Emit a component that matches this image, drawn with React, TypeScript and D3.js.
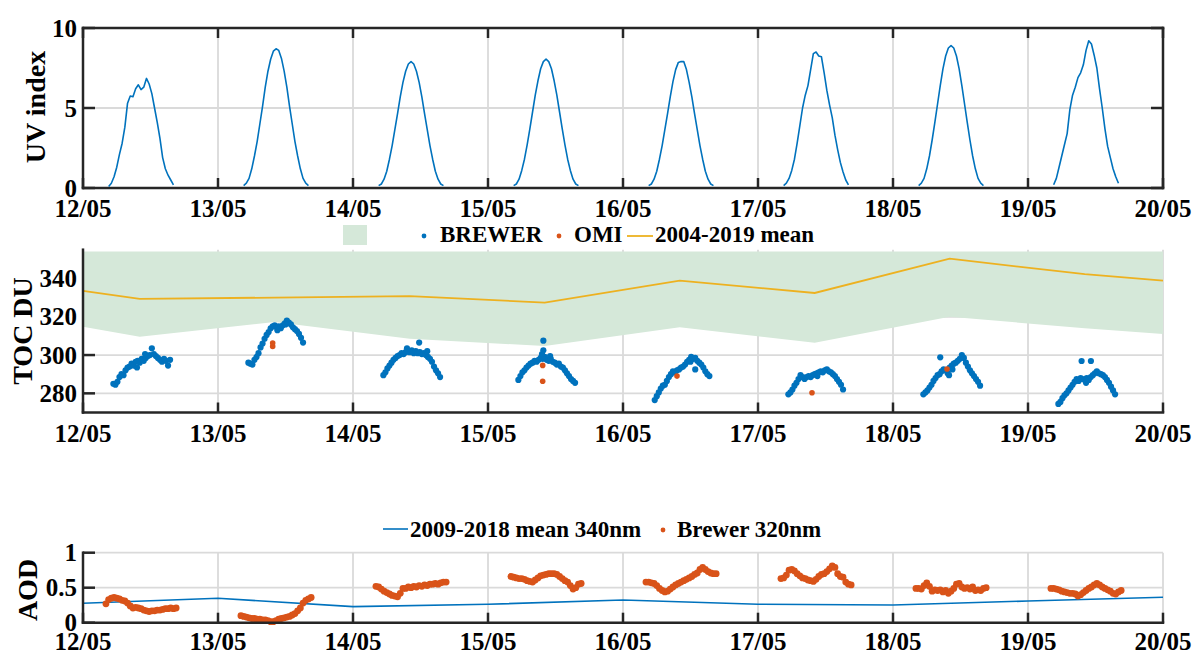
import React from 'react';
import * as d3 from 'd3';

// ---- shared x axis: days of May ----
const DAY_TICKS = [12, 13, 14, 15, 16, 17, 18, 19, 20];
const DAY_LABELS = ['12/05', '13/05', '14/05', '15/05', '16/05', '17/05', '18/05', '19/05', '20/05'];

// ---- UV index, sampled every 0.02 day during daylight ----
const UV_STEP = 0.02;
const UV_STARTS = [12.19, 13.19, 14.19, 15.19, 16.19, 17.19, 18.19, 19.19];
const uv12 = [0.1, 0.3, 0.7, 1.3, 2.1, 2.8, 3.8, 5.3, 5.75, 5.7, 6.2, 6.45, 6.15, 6.3, 6.85, 6.5, 5.9, 5.0, 4.1, 3.1, 1.9, 1.2, 0.8, 0.5, 0.2];
const uv13 = [0.15, 0.3, 0.6, 1.2, 2.0, 2.9, 4.0, 5.1, 6.3, 7.3, 8.05, 8.55, 8.7, 8.6, 8.1, 7.3, 6.3, 5.1, 4.0, 2.9, 2.0, 1.2, 0.6, 0.3, 0.15];
const uv14 = [0.15, 0.25, 0.55, 1.05, 1.8, 2.65, 3.65, 4.65, 5.7, 6.6, 7.3, 7.75, 7.9, 7.75, 7.3, 6.6, 5.7, 4.65, 3.65, 2.65, 1.8, 1.05, 0.55, 0.25, 0.15];
const uv15 = [0.15, 0.25, 0.55, 1.1, 1.8, 2.7, 3.7, 4.75, 5.8, 6.7, 7.45, 7.9, 8.05, 7.9, 7.45, 6.7, 5.8, 4.75, 3.7, 2.7, 1.8, 1.1, 0.55, 0.25, 0.15];
const uv16 = [0.15, 0.25, 0.55, 1.05, 1.8, 2.65, 3.65, 4.65, 5.7, 6.65, 7.4, 7.85, 7.9, 7.9, 7.4, 6.6, 5.7, 4.65, 3.65, 2.65, 1.8, 1.05, 0.55, 0.25, 0.15];
const uv17 = [0.15, 0.3, 0.6, 1.1, 1.8, 2.8, 3.9, 5.0, 5.8, 6.4, 7.4, 8.4, 8.5, 8.25, 8.2, 7.2, 6.1, 5.2, 4.4, 3.3, 2.4, 1.6, 1.0, 0.5, 0.2];
const uv18 = [0.15, 0.3, 0.6, 1.2, 2.0, 3.0, 4.1, 5.25, 6.4, 7.45, 8.25, 8.75, 8.9, 8.75, 8.25, 7.45, 6.4, 5.25, 4.1, 3.0, 2.0, 1.2, 0.6, 0.3, 0.15];
const uv19 = [0.2, 0.6, 1.3, 2.0, 2.7, 3.4, 4.9, 5.8, 6.3, 6.9, 7.2, 7.7, 8.6, 9.2, 9.0, 8.3, 7.5, 6.2, 5.0, 3.7, 2.6, 1.9, 1.2, 0.7, 0.3];
const UV_SERIES = [uv12, uv13, uv14, uv15, uv16, uv17, uv18, uv19];

// ---- total ozone column: climatology band and mean ----
const TOC_CLIM_T = [12, 12.42, 13.42, 14.42, 15.42, 16.42, 17.42, 18.42, 19.42, 20];
const TOC_CLIM_LOW = [314.8, 309.6, 317.2, 308.5, 304.7, 314.5, 306.4, 320, 314, 311];
const TOC_CLIM_MEAN = [333.5, 329.3, 330.0, 330.8, 327.4, 338.8, 332.4, 350.3, 342.2, 338.8];

// ---- Brewer TOC, sampled every 0.015 day ----
const BREWER_STEP = 0.015;
const BREWER_STARTS = [12.225, 13.225, 14.225, 15.225, 16.235, 17.225, 18.225, 19.225];
const br12 = [285, 284.5, 286, 288.5, 290, 289.5, 292, 293.5, 294, 295.5, 294.5, 296.5, 297, 296, 298, 297, 298.5, 299.5, 300, 303.5, 300.5, 299.5, 298.5, 297.5, 296.5, 298, 297, 294.5, 297.5];
const br13 = [296, 295.5, 295, 297.5, 299, 301, 304, 306, 308.5, 310.5, 312, 314, 315, 315.5, 314.5, 315, 314, 315.5, 316.5, 318, 317, 316, 314.5, 313.5, 312.5, 311, 309, 306.5];
const br14 = [289.5, 291, 293, 294.5, 296, 297.5, 298.5, 299.5, 300, 301, 300.5, 301.5, 302, 301.5, 302.5, 301, 302, 301, 301.5, 300.5, 301, 300, 299, 298, 296.5, 294, 292, 290.5, 288.5];
const br15 = [287, 289, 291, 292, 293.5, 294.5, 295.5, 296, 297, 296.5, 297.5, 298.5, 298, 299, 297.5, 297, 298, 296.5, 296, 295, 295.5, 294, 293.5, 292, 290.5, 289, 287.5, 286.5, 285.5];
const br16 = [276.5, 278.5, 280.5, 282.5, 284, 284.5, 286.5, 288.5, 290, 291.5, 291, 292, 292.5, 293.5, 294, 295, 296.5, 297.5, 299, 298, 298.5, 297, 296, 295, 293.5, 291.5, 290, 289];
const br17 = [279.5, 280.5, 282, 284, 285.5, 287.5, 289.5, 288.5, 287.5, 288.5, 289, 288.5, 289.5, 290, 290.5, 291, 291.5, 291, 292, 292.5, 291.5, 291, 290, 289, 287.5, 286, 284.5, 282];
const br18 = [279.5, 280.5, 281.5, 283, 284.5, 286.5, 288, 289.5, 290, 291.5, 292.5, 292, 290.5, 293.5, 294.5, 295.5, 296, 297, 298, 300, 298.5, 296, 294, 292, 290.5, 289, 287.5, 286, 284];
const br19 = [274.5, 275.5, 277.5, 279, 280, 281.5, 283, 284.5, 286, 287.5, 286.5, 288, 287.5, 287, 288, 287, 288.5, 289.5, 290.5, 291.5, 290.5, 290, 289.5, 288.5, 287, 285.5, 283.5, 281.5, 279.5];
const BREWER_SERIES = [br12, br13, br14, br15, br16, br17, br18, br19];
// scattered Brewer readings off the main daily arc
const BREWER_EXTRA_T = [12.40, 12.46, 13.44, 13.50, 14.40, 14.49, 14.55, 15.41, 15.41, 15.40, 15.46, 16.535, 16.50, 17.44, 18.35, 18.415, 18.44, 19.397, 19.466, 19.43];
const BREWER_EXTRA_V = [293.5, 300.5, 313, 316, 303.5, 306.5, 302, 307.5, 302.5, 300.5, 299.5, 292.5, 296.5, 289, 298.8, 289.5, 292.5, 296.9, 296.9, 285.5];

// ---- OMI overpasses ----
const OMI_T = [13.405, 13.405, 15.405, 15.405, 16.40, 17.40, 18.40];
const OMI_V = [304.5, 306.3, 294.6, 286.3, 289, 280.3, 292.7];

// ---- aerosol optical depth ----
const AOD_MEAN_T = [12, 13, 14, 15, 16, 17, 18, 19, 20];
const AOD_MEAN = [0.277, 0.349, 0.229, 0.263, 0.324, 0.263, 0.253, 0.31, 0.363];
const AOD_STEP = 0.02;
const AOD_STARTS = [12.17, 13.17, 14.17, 15.17, 16.17, 17.17, 18.17, 19.17];
const aod12 = [0.27, 0.33, 0.35, 0.36, 0.35, 0.34, 0.32, 0.31, 0.28, 0.24, 0.21, 0.22, 0.21, 0.2, 0.18, 0.17, 0.16, 0.17, 0.17, 0.18, 0.18, 0.19, 0.2, 0.2, 0.21, 0.2, 0.21];
const aod13 = [0.1, 0.09, 0.08, 0.07, 0.06, 0.06, 0.05, 0.05, 0.04, 0.04, 0.03, 0.015, 0.015, 0.03, 0.05, 0.06, 0.07, 0.08, 0.09, 0.11, 0.13, 0.17, 0.21, 0.28, 0.32, 0.34, 0.36];
const aod14 = [0.52, 0.51, 0.48, 0.45, 0.43, 0.41, 0.39, 0.38, 0.37, 0.42, 0.49, 0.49, 0.51, 0.5, 0.52, 0.51, 0.53, 0.52, 0.54, 0.53, 0.55, 0.55, 0.56, 0.55, 0.57, 0.58, 0.58];
const aod15 = [0.66, 0.65, 0.64, 0.63, 0.63, 0.62, 0.6, 0.59, 0.58, 0.61, 0.64, 0.67, 0.68, 0.69, 0.7, 0.7, 0.7, 0.69, 0.66, 0.63, 0.6, 0.58, 0.53, 0.48, 0.5, 0.55, 0.56];
const aod16 = [0.58, 0.58, 0.57, 0.56, 0.53, 0.49, 0.46, 0.44, 0.45, 0.48, 0.51, 0.54, 0.56, 0.58, 0.6, 0.62, 0.64, 0.66, 0.69, 0.71, 0.76, 0.79, 0.76, 0.73, 0.71, 0.7, 0.7];
const aod17 = [0.63, 0.64, 0.68, 0.75, 0.76, 0.74, 0.7, 0.67, 0.64, 0.63, 0.61, 0.6, 0.59, 0.62, 0.66, 0.69, 0.7, 0.73, 0.77, 0.81, 0.79, 0.7, 0.66, 0.65, 0.58, 0.55, 0.54];
const aod18 = [0.49, 0.49, 0.48, 0.53, 0.57, 0.52, 0.45, 0.47, 0.46, 0.47, 0.44, 0.46, 0.42, 0.45, 0.49, 0.55, 0.56, 0.51, 0.49, 0.5, 0.48, 0.51, 0.46, 0.47, 0.46, 0.49, 0.5];
const aod19 = [0.49, 0.49, 0.48, 0.47, 0.45, 0.44, 0.43, 0.42, 0.42, 0.41, 0.38, 0.4, 0.43, 0.46, 0.49, 0.51, 0.54, 0.56, 0.54, 0.51, 0.49, 0.47, 0.45, 0.42, 0.41, 0.44, 0.46];
const AOD_SERIES = [aod12, aod13, aod14, aod15, aod16, aod17, aod18, aod19];

// ---- styling ----
const FONT = "'Liberation Serif', 'Times New Roman', Times, serif";
const AXIS = '#262626';
const GRID = '#dadada';
const BLUE = '#0072BD';
const ORANGE = '#D95319';
const GOLD = '#EDB120';
const BAND = '#d5e8d9';

type Pt = [number, number];

function sampled(starts: number[], series: number[][], step: number): Pt[][] {
  return series.map((vals, k) => vals.map((v, i) => [starts[k] + i * step, v] as Pt));
}

const x = d3.scaleLinear().domain([12, 20]).range([83, 1163]);
const yUV = d3.scaleLinear().domain([0, 10]).range([188, 28]);
const yTOC = d3.scaleLinear().domain([270, 355]).range([412.5, 249.7]);
const yAOD = d3.scaleLinear().domain([0, 1]).range([622.7, 552.7]);

function Frame({ y, yTicks, yLabels, box, labelGap, under }: {
  y: d3.ScaleLinear<number, number>;
  yTicks: number[];
  yLabels: string[];
  box: boolean;
  labelGap: number;
  under?: React.ReactNode;
}) {
  const [y0, y1] = y.range();
  const [x0, x1] = x.range();
  const tl = 10;
  return (
    <g>
      {/* grid */}
      {DAY_TICKS.map((d) => (
        <line key={'gx' + d} x1={x(d)} x2={x(d)} y1={y0} y2={y1} stroke={GRID} strokeWidth={1.8} />
      ))}
      {yTicks.map((t) => (
        <line key={'gy' + t} x1={x0} x2={x1} y1={y(t)} y2={y(t)} stroke={GRID} strokeWidth={1.8} />
      ))}
      {/* inward ticks */}
      {DAY_TICKS.map((d) => (
        <g key={'tx' + d}>
          <line x1={x(d)} x2={x(d)} y1={y0} y2={y0 - tl} stroke={AXIS} strokeWidth={2.5} />
          {box && <line x1={x(d)} x2={x(d)} y1={y1} y2={y1 + tl} stroke={AXIS} strokeWidth={2.5} />}
        </g>
      ))}
      {yTicks.map((t) => (
        <g key={'ty' + t}>
          <line x1={x0} x2={x0 + 12} y1={y(t)} y2={y(t)} stroke={AXIS} strokeWidth={2.5} />
          {box && <line x1={x1} x2={x1 - 12} y1={y(t)} y2={y(t)} stroke={AXIS} strokeWidth={2.5} />}
        </g>
      ))}
      {under}
      {/* axis lines */}
      <line x1={x0} x2={x1} y1={y0} y2={y0} stroke={AXIS} strokeWidth={2.5} strokeLinecap="square" />
      <line x1={x0} x2={x0} y1={y0} y2={y1} stroke={AXIS} strokeWidth={2.5} strokeLinecap="square" />
      {box && (
        <>
          <line x1={x0} x2={x1} y1={y1} y2={y1} stroke={AXIS} strokeWidth={2.5} strokeLinecap="square" />
          <line x1={x1} x2={x1} y1={y0} y2={y1} stroke={AXIS} strokeWidth={2.5} strokeLinecap="square" />
        </>
      )}
      {/* tick labels */}
      {DAY_TICKS.map((d, i) => (
        <text key={'lx' + d} x={x(d)} y={y0 + labelGap} textAnchor="middle" fontSize={25} fontWeight="bold" fontFamily={FONT} fill="#000">
          {DAY_LABELS[i]}
        </text>
      ))}
      {yTicks.map((t, i) => (
        <text key={'ly' + t} x={77} y={y(t)} dy="0.34em" textAnchor="end" fontSize={25} fontWeight="bold" fontFamily={FONT} fill="#000">
          {yLabels[i]}
        </text>
      ))}
    </g>
  );
}

function YTitle({ text, x: tx, y: ty }: { text: string; x: number; y: number }) {
  return (
    <text transform={`translate(${tx},${ty}) rotate(-90)`} textAnchor="middle" fontSize={28} fontWeight="bold" fontFamily={FONT} fill="#000">
      {text}
    </text>
  );
}

export default function App() {
  const uvLine = d3.line<Pt>().x((p) => x(p[0])).y((p) => yUV(p[1]));
  const uvDays = sampled(UV_STARTS, UV_SERIES, UV_STEP);

  const bandPts: Pt[] = TOC_CLIM_T.map((t, i) => [t, TOC_CLIM_LOW[i]]);
  const band = d3.area<Pt>().x((p) => x(p[0])).y0((p) => yTOC(p[1])).y1(() => yTOC(354));
  const meanLine = d3.line<Pt>().x((p) => x(p[0])).y((p) => yTOC(p[1]));
  const meanPts: Pt[] = TOC_CLIM_T.map((t, i) => [t, TOC_CLIM_MEAN[i]]);
  const brewer = sampled(BREWER_STARTS, BREWER_SERIES, BREWER_STEP).flat();
  const brewerExtra: Pt[] = BREWER_EXTRA_T.map((t, i) => [t, BREWER_EXTRA_V[i]]);
  const omi: Pt[] = OMI_T.map((t, i) => [t, OMI_V[i]]);

  const aodLine = d3.line<Pt>().x((p) => x(p[0])).y((p) => yAOD(p[1]));
  const aodMean: Pt[] = AOD_MEAN_T.map((t, i) => [t, AOD_MEAN[i]]);
  const aod = sampled(AOD_STARTS, AOD_SERIES, AOD_STEP).flat();

  return (
    <svg width={1195} height={654} style={{ position: 'absolute', left: 0, top: 0, background: '#fff' }}>
      <rect width={1195} height={654} fill="#fff" />

      {/* UV index panel */}
      <Frame y={yUV} yTicks={[0, 5, 10]} yLabels={['0', '5', '10']} box={true} labelGap={29} />
      {uvDays.map((pts, i) => (
        <path key={'uv' + i} d={uvLine(pts) || ''} fill="none" stroke={BLUE} strokeWidth={1.6} strokeLinejoin="round" />
      ))}
      <YTitle text="UV index" x={45} y={107} />

      {/* total ozone panel */}
      <Frame
        y={yTOC}
        yTicks={[280, 300, 320, 340]}
        yLabels={['280', '300', '320', '340']}
        box={false}
        labelGap={29}
        under={
          <g>
            <path d={band(bandPts) || ''} fill={BAND} stroke="none" />
            <path d={meanLine(meanPts) || ''} fill="none" stroke={GOLD} strokeWidth={1.8} />
            {brewer.concat(brewerExtra).map((p, i) => (
              <circle key={'b' + i} cx={x(p[0])} cy={yTOC(p[1])} r={3.1} fill={BLUE} />
            ))}
            {omi.map((p, i) => (
              <circle key={'o' + i} cx={x(p[0])} cy={yTOC(p[1])} r={2.8} fill={ORANGE} />
            ))}
          </g>
        }
      />
      <YTitle text="TOC DU" x={31.7} y={331} />
      {/* legend */}
      <g fontFamily={FONT} fontWeight="bold" fontSize={23} fill="#000">
        <rect x={343} y={225} width={24} height={20} fill={BAND} />
        <circle cx={424} cy={236} r={2.4} fill={BLUE} />
        <text x={440} y={242}>BREWER</text>
        <circle cx={559} cy={236} r={2.4} fill={ORANGE} />
        <text x={574} y={242}>OMI</text>
        <line x1={627} x2={653} y1={236} y2={236} stroke={GOLD} strokeWidth={1.8} />
        <text x={655} y={242}>2004-2019 mean</text>
      </g>

      {/* aerosol optical depth panel */}
      <Frame
        y={yAOD}
        yTicks={[0, 0.5, 1]}
        yLabels={['0', '0.5', '1']}
        box={false}
        labelGap={27.5}
        under={
          <g>
            <path d={aodLine(aodMean) || ''} fill="none" stroke={BLUE} strokeWidth={1.6} />
            {aod.map((p, i) => (
              <circle key={'a' + i} cx={x(p[0])} cy={yAOD(p[1])} r={3.4} fill={ORANGE} />
            ))}
          </g>
        }
      />
      <YTitle text="AOD" x={36.7} y={590} />
      <g fontFamily={FONT} fontWeight="bold" fontSize={23} fill="#000">
        <line x1={383} x2={408} y1={529} y2={529} stroke={BLUE} strokeWidth={1.6} />
        <text x={410} y={537}>2009-2018 mean 340nm</text>
        <circle cx={663} cy={530} r={2.4} fill={ORANGE} />
        <text x={677} y={537}>Brewer 320nm</text>
      </g>
    </svg>
  );
}
